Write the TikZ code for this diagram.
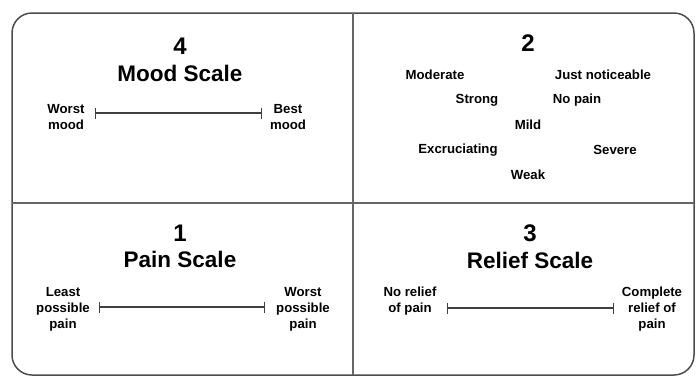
\documentclass[tikz,border=0pt]{standalone}
\usepackage{fontspec}
\setmainfont{Liberation Sans}
\usetikzlibrary{arrows.meta}
\tikzset{
  frame/.style={draw=black!70, line width=1.5pt},
  divider/.style={draw=black!60, line width=1.3pt},
  digit/.style={font=\bfseries\fontsize{24}{26}\selectfont, inner sep=0pt},
  title/.style={font=\bfseries\fontsize{22.5}{24}\selectfont, inner sep=0pt},
  lbl/.style={font=\bfseries\fontsize{13.2}{16}\selectfont, align=center, inner sep=0pt},
  word/.style={font=\bfseries\fontsize{13.2}{16}\selectfont, inner sep=0pt},
  scaleline/.style={draw=black!75, line width=1.4pt, {Bar[width=11pt,line width=1.2pt]}-{Bar[width=11pt,line width=1.2pt]}}
}
\begin{document}
\begin{tikzpicture}[x=1pt,y=-1pt]
\useasboundingbox (0,0) rectangle (698,381);
% frame and dividers
\draw[frame, rounded corners=20pt] (12,13) rectangle (694,375);
\coordinate (vtop) at (353,13);
\coordinate (vbot) at (353,375);
\coordinate (hl) at (12,203);
\coordinate (hr) at (694,203);
\draw[divider] (vtop) -- (vbot);
\draw[divider] (hl) -- (hr);

% Quadrant 4: Mood scale
\node[digit] (n4) at (180,46) {4};
\node[title] (t4) at (180,73) {Mood Scale};
\node[lbl] (m1) at (66,117) {Worst\\mood};
\node[lbl] (m2) at (288,117) {Best\\mood};
\coordinate (ma) at (95,113);
\coordinate (mb) at (262,113);
\draw[scaleline] (ma) -- (mb);

% Quadrant 2: descriptors
\node[digit] (n2) at (528,43) {2};
\node[word] (w1) at (435,75) {Moderate};
\node[word] (w2) at (603,75) {Just noticeable};
\node[word] (w3) at (477,100) {Strong};
\node[word] (w4) at (577,100) {No pain};
\node[word] (w5) at (528,125) {Mild};
\node[word] (w6) at (458,150) {Excruciating};
\node[word] (w7) at (615,150) {Severe};
\node[word] (w8) at (528,175) {Weak};

% Quadrant 1: Pain scale
\node[digit] (n1) at (180,233) {1};
\node[title] (t1) at (180,259) {Pain Scale};
\node[lbl] (p1) at (63,309) {Least\\possible\\pain};
\node[lbl] (p2) at (303,309) {Worst\\possible\\pain};
\coordinate (pa) at (99,307);
\coordinate (pb) at (265,307);
\draw[scaleline] (pa) -- (pb);

% Quadrant 3: Relief scale
\node[digit] (n3) at (530,233) {3};
\node[title] (t3) at (530,260) {Relief Scale};
\node[lbl] (r1) at (410,301) {No relief\\of pain};
\node[lbl] (r2) at (652,309) {Complete\\relief of\\pain};
\coordinate (ra) at (447,308);
\coordinate (rb) at (614,308);
\draw[scaleline] (ra) -- (rb);
\end{tikzpicture}
\end{document}
